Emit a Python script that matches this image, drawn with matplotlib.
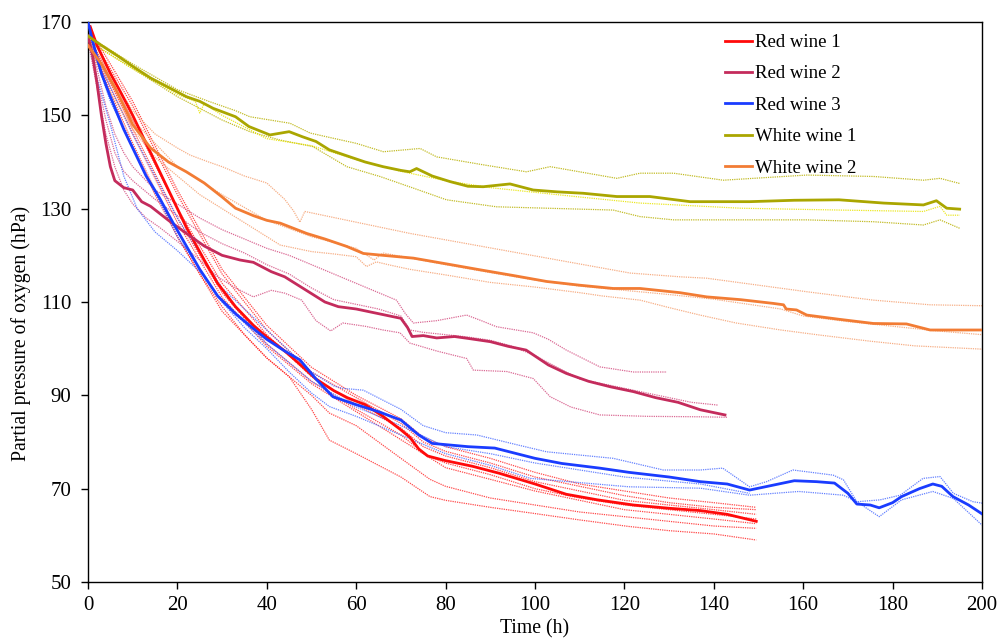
import matplotlib
matplotlib.use("Agg")
import matplotlib.pyplot as plt

plt.rcParams['font.family'] = ['Liberation Serif', 'DejaVu Serif']

# ---------------- data (time h, pO2 hPa) ----------------
# Red wine 1 (main + replicates)
rw1_x = [0.5, 2, 5, 7, 10, 14, 18, 22, 26, 29, 33, 37, 40, 44, 47, 51, 55, 58, 62, 66, 70, 72, 74, 76, 80, 86, 92, 100, 107, 114, 122, 130, 137, 143, 149.5]
rw1_y = [169, 165, 159, 155.5, 150, 142, 134, 126, 119, 114, 109, 105, 102.5, 99.5, 97, 93.5, 91, 89.5, 88, 85.5, 82.6, 81, 78.5, 77, 76, 74.8, 73.3, 71, 68.8, 67.6, 66.5, 65.8, 65.3, 64.5, 63]
rw1_reps = [
    ([0, 5, 10, 20, 30, 40, 50, 60, 70, 75, 80, 90, 100, 110, 120, 130, 140, 149.5],
     [168, 160, 152, 133, 116, 104, 95, 89.5, 84, 80, 78, 75.5, 72.5, 70.5, 68.5, 67, 66, 65.5]),
    ([0, 5, 10, 20, 30, 40, 50, 60, 70, 75, 80, 90, 100, 110, 120, 130, 140, 149.5],
     [167, 158, 149, 130, 114, 103, 94, 88, 83, 79, 77, 74.5, 71.5, 69.5, 67.5, 66.5, 65.5, 64.5]),
    ([0, 5, 10, 20, 30, 40, 50, 60, 70, 76, 80, 90, 100, 110, 120, 130, 140, 149.5],
     [168, 157, 147, 128, 112, 101, 93, 87, 81.5, 77, 75.5, 73, 70, 68, 66.5, 65.5, 64.5, 63.5]),
    ([0, 5, 10, 20, 30, 40, 50, 60, 70, 80, 90, 100, 110, 120, 130, 140, 149.5],
     [166, 156, 146, 127, 111, 100.5, 92.5, 86.5, 80.5, 74.5, 72, 69.5, 67.5, 65.5, 64.5, 63.5, 62.5]),
    ([0, 5, 10, 20, 30, 40, 50, 54, 60, 70, 76.5, 80, 90, 100, 110, 120, 130, 140, 149.5],
     [167, 155, 144, 124, 108, 98, 90, 86.2, 83.5, 76.5, 72, 70.5, 68, 66.5, 65, 64, 63, 62, 61.5]),
    ([0, 5, 10, 15, 20, 25, 30, 35, 40, 45, 50, 54, 60, 65, 70, 76.5, 80, 90, 99, 110, 121, 130, 140, 149.5],
     [166, 154, 143, 133, 124, 116, 109, 103, 98, 94, 87, 80.4, 77.5, 75, 72.5, 68.3, 67.5, 66, 64.8, 63.3, 61.9, 61, 60.3, 59]),
    ([0, 5, 10, 20, 30, 40, 50, 60, 70, 75, 80, 90, 100, 110, 120, 130, 140, 149.5],
     [169, 161, 153, 134, 117, 105, 96, 90, 85, 81, 79, 76.5, 73.5, 71, 69.5, 68, 67, 66]),
]

# Red wine 2
rw2_x = [0, 1, 2, 3, 4, 5, 6, 8, 10, 12, 14, 16, 18, 22, 26, 30, 34, 37, 41, 44, 48, 53, 56, 60, 65, 70, 71.5, 72.5, 75, 78, 82, 85, 90, 94, 98, 103, 107, 112, 117, 122, 127, 132, 137, 142.5]
rw2_y = [167, 163, 157, 150, 144, 139, 136, 134.5, 134, 131.5, 130.5, 129, 127.5, 124.7, 122, 120, 119, 118.5, 116.5, 115.4, 113, 110, 109, 108.5, 107.5, 106.5, 104.5, 102.6, 102.8, 102.3, 102.6, 102.2, 101.5, 100.5, 99.7, 96.5, 94.7, 93, 91.8, 90.8, 89.5, 88.5, 86.9, 85.8]
rw2_reps = [
    ([0, 2, 4, 6, 8, 10, 15, 20, 25, 30, 35, 40, 45, 50, 55, 60, 65, 69, 71, 72.8, 78, 84.7, 88, 91.4, 99.6, 103, 107, 114.5, 122, 129.5],
     [167, 160, 152, 146, 142, 139, 134, 131, 128, 125.5, 123.5, 121.5, 120, 118, 116, 114, 112, 110.4, 107.5, 105.5, 106, 107.2, 106, 104.7, 103.4, 102, 99.7, 96.1, 95, 95]),
    ([0, 2, 4, 6, 8, 10, 13, 16, 20, 25, 29, 33, 37, 41, 44, 47.8, 51, 54.3, 57, 62, 66, 69.8, 72, 78, 84.7, 86.2, 93.7, 99.6, 103.4, 108, 114.5, 125, 137, 143],
     [166, 156, 146, 139, 134, 131, 128, 126, 123, 119, 115.4, 113, 111.1, 112.5, 111.9, 110.4, 106, 103.8, 105.5, 104.8, 104, 103.4, 101.2, 99.5, 97.9, 95.4, 95.1, 93.6, 89.7, 87.5, 85.8, 85.5, 85.4, 85.3]),
    ([0, 2, 4, 6, 8, 10, 15, 20, 25, 30, 35, 40, 45, 50, 55, 60, 65, 70, 72, 75, 80, 85, 90, 95, 100, 105, 110, 115, 120, 125, 130, 135, 141],
     [166, 158, 149, 142, 138, 136, 132, 128.5, 125, 122.5, 120.5, 118, 116, 113, 110.5, 109.5, 108.5, 107, 104, 103.5, 103, 102.5, 101.8, 100.5, 98.5, 96, 93.5, 92.5, 91.5, 90.5, 89.5, 88.5, 87.9]),
]

# Red wine 3
rw3_x = [0, 1, 3, 5, 8, 10.5, 13, 16, 19, 22, 25, 29, 33, 37, 40, 44, 47.4, 51, 54.8, 60, 65, 70, 74, 77, 85, 91, 100, 106, 114.5, 121, 130, 137, 143, 148, 152, 158, 163, 167, 170, 172, 175, 177, 180, 182, 186, 189, 191, 193.5, 197, 200]
rw3_y = [170, 166, 159, 154, 147, 142, 137, 132.3, 127, 122, 117, 111.3, 107.5, 104.3, 102, 99.5, 97.6, 93.5, 89.7, 88, 86.5, 84.7, 81.5, 79.7, 79, 78.7, 76.5, 75.4, 74.4, 73.5, 72.5, 71.5, 71, 69.7, 70.5, 71.7, 71.5, 71.2, 69, 66.7, 66.5, 65.9, 67, 68.3, 70, 71, 70.5, 68.3, 66.5, 64.6]
rw3_reps = [
    ([0, 5, 10, 20, 30, 40, 50, 55, 57, 61.6, 70, 75, 80, 87, 96, 102.6, 117.5, 128.7, 137, 142, 148, 151.8, 157.7, 166.7, 169, 172, 177.2, 181.7, 186.8, 190.6, 193.6, 198, 200],
     [168, 156, 146, 128, 113, 104, 95, 92, 91.5, 91.1, 87, 83.5, 82, 81.5, 79.4, 77.9, 76.5, 74, 74, 74.4, 70.4, 71.5, 74, 72.9, 71.9, 67.2, 67.6, 68.6, 72.2, 72.6, 69, 67.2, 66.9]),
    ([0, 2, 5, 8, 11, 15, 20, 25, 30, 35, 40, 45, 50, 54, 60, 70, 80, 90, 99, 110, 121, 137, 148, 159, 169, 172, 177, 182, 189, 193.6, 200],
     [166, 158, 148, 137, 130, 125, 121, 116.5, 110, 104.5, 100, 95, 90.5, 87.6, 85.5, 81.5, 77.5, 75, 72.2, 71.3, 70.4, 70.1, 68.6, 69.4, 68.6, 67.2, 64, 67.6, 69.4, 67.9, 62.2]),
    ([0, 5, 10, 20, 30, 40, 50, 60, 70, 80, 90, 100, 120, 137, 148],
     [167, 153, 143, 124, 110, 101, 93, 87.5, 83.5, 79, 77.5, 75.5, 72.5, 71, 69]),
]

# White wine 1
ww1_x = [0, 3, 7, 10, 14, 18, 22, 25, 28, 33, 36, 40.7, 45, 48, 51, 54, 58.6, 62, 66, 70, 72, 73.5, 77, 81, 85, 88.4, 94.4, 99.6, 105, 110.8, 118.3, 125.7, 134.7, 148, 158, 168, 178, 186.9, 189.8, 192.1, 195]
ww1_y = [167, 165, 162.5, 160.5, 158, 156, 154, 153, 151.5, 149.7, 147.6, 145.8, 146.5, 145.4, 144.4, 142.6, 141.1, 140, 139, 138.2, 137.9, 138.6, 137, 135.8, 134.8, 134.7, 135.3, 134, 133.6, 133.3, 132.6, 132.6, 131.5, 131.5, 131.8, 131.9, 131.2, 130.8, 131.7, 130.1, 129.9]
ww1_reps = [
    ([0, 5, 10, 20, 27, 33, 36.2, 45.2, 49.7, 53.4, 60, 66.1, 74.3, 78, 88.4, 98.1, 103.4, 118.3, 123.5, 131, 142.1, 160.8, 175.7, 186.9, 190.6, 195],
     [167, 164, 161, 155.5, 153, 151, 149.7, 148.3, 146.2, 145.4, 144, 142.2, 142.9, 141.1, 139.4, 137.9, 139, 136.5, 137.6, 137.6, 136.1, 137.2, 136.9, 136.1, 136.5, 135.4]),
    ([0, 5, 10, 20, 30, 36.2, 43, 50.3, 57.9, 65.3, 72.8, 80.2, 91.4, 102.6, 117.5, 123.5, 131, 145.9, 160.8, 175.7, 186.9, 190.6, 195],
     [166, 163, 160, 154, 149, 146.5, 144.7, 143.3, 139, 136.9, 134.4, 131.9, 130.4, 130.1, 129.7, 128.3, 127.6, 127.6, 127.6, 127.2, 126.5, 127.6, 125.8]),
    ([0, 5, 10, 20, 24, 25, 26, 30, 40, 50, 60, 70, 80, 90, 100, 110, 123.5, 145.9, 168.2, 186.9, 190.6, 192.1, 195],
     [166, 163, 160, 154.5, 153, 150.5, 152.5, 150, 145, 143.5, 140.5, 138, 136, 134.5, 133.5, 132.5, 131.2, 130.1, 129.7, 129.4, 130.5, 128.6, 128.6]),
]

# White wine 2
ww2_x = [0, 3, 6, 10, 14, 18, 22, 26, 30, 33, 37, 40, 43, 48.9, 53, 57.9, 61.6, 66, 72.8, 80, 87.7, 95, 102.6, 110, 117.5, 123.5, 132.4, 138.4, 146, 153.3, 155.6, 156.2, 158.5, 160.8, 168, 175.7, 183.1, 188.4, 200]
ww2_y = [165, 161, 156, 148, 143, 140, 137.9, 135.5, 132.5, 130.1, 128.5, 127.5, 126.9, 124.7, 123.5, 121.9, 120.4, 120, 119.4, 118.2, 116.9, 115.7, 114.4, 113.6, 112.9, 112.9, 112, 111.1, 110.5, 109.7, 109.4, 108.5, 108.3, 107.2, 106.3, 105.4, 105.3, 104, 104]
ww2_reps = [
    ([0, 3, 6, 10, 15, 20, 22.8, 27, 30, 35, 40, 44, 46, 47.4, 48.5, 72, 121.3, 132.4, 138.4, 160.8, 175.7, 188.4, 200],
     [166, 162, 157, 151, 146, 143, 141.5, 140, 139, 137, 135.5, 132, 129.5, 127.1, 129.4, 124.7, 116.2, 115.4, 115.1, 112.2, 110.4, 109.4, 109.2]),
    ([0, 5, 10, 20, 30, 40, 50, 60, 64, 66, 70, 80, 90, 100, 110, 120, 130, 140, 150, 155, 160, 170, 180, 190, 200],
     [165, 157, 149, 139, 133, 127.5, 124, 121.5, 119, 120.5, 119.8, 118, 116.3, 114.7, 113.4, 112.5, 111.6, 110.6, 109.2, 108.5, 107, 105.8, 104.8, 103.8, 103]),
    ([0, 5, 10, 15, 20, 25, 30, 35, 40, 43, 50, 55, 60, 62.3, 64.5, 67.6, 72, 80, 90, 100, 110, 115, 123.5, 130, 136.9, 145, 155, 163.8, 175, 185, 200],
     [165, 155, 147, 141, 137, 133, 130, 127, 124, 122.2, 120.8, 120.3, 119.7, 117.6, 118.6, 117.9, 117, 115.8, 114.2, 113.2, 112, 111.3, 110.4, 108.8, 107.2, 105.5, 104, 102.9, 101.6, 100.6, 99.9]),
]

series = [
    ("Red wine 1", rw1_x, rw1_y, rw1_reps, "#ff0a0a", ["#ff2a2a"]),
    ("Red wine 2", rw2_x, rw2_y, rw2_reps, "#c42b5c", ["#d45082"]),
    ("Red wine 3", rw3_x, rw3_y, rw3_reps, "#1a3cff", ["#4a6cff"]),
    ("White wine 1", ww1_x, ww1_y, ww1_reps, "#aaa600", ["#b8b000", "#b8b000", "#e8e400"]),
    ("White wine 2", ww2_x, ww2_y, ww2_reps, "#f27c34", ["#f5a070"]),
]

xticks = [0, 20, 40, 60, 80, 100, 120, 140, 160, 180, 200]
yticks = [50, 70, 90, 110, 130, 150, 170]

fig = plt.figure(figsize=(9.98, 6.40), dpi=100)
ax = fig.add_axes([88/998, 1-582/640, (982-88)/998, (582-22)/640])

# replicates first
for name, mx, my, reps, col, rcols in series:
    for i, (rx, ry) in enumerate(reps):
        rc = rcols[i % len(rcols)]
        ax.plot(rx, ry, color=rc, lw=0.9, ls=(0, (1, 0.8)), alpha=0.85, zorder=2)

handles = []
for name, mx, my, reps, col, rcols in series:
    h, = ax.plot(mx, my, color=col, lw=2.0, zorder=3, label=name)
    handles.append(h)

ax.set_xlim(0, 200)
ax.set_ylim(50, 170)
ax.set_xticks(xticks)
ax.set_yticks(yticks)
ax.tick_params(direction='out', length=5, width=1, labelsize=15, colors='black')
ax.tick_params(axis='y', pad=7)
ax.tick_params(axis='x', pad=5)
for s in ax.spines.values():
    s.set_linewidth(1.0)
    s.set_color('black')
ax.set_xlabel("Time (h)", fontsize=14.2)
ax.xaxis.set_label_coords(0.5, -0.067)
ax.set_ylabel("Partial pressure of oxygen (hPa)", fontsize=14.2)
ax.yaxis.set_label_coords(-0.064, 0.443)

leg = fig.legend(handles=handles, loc='upper left', bbox_to_anchor=(725/998, 1-34/640),
                 frameon=False, fontsize=13.5, handlelength=1.45, handletextpad=0.15,
                 labelspacing=0.76, borderpad=0, borderaxespad=0)

fig.savefig("out.png", dpi=100)
